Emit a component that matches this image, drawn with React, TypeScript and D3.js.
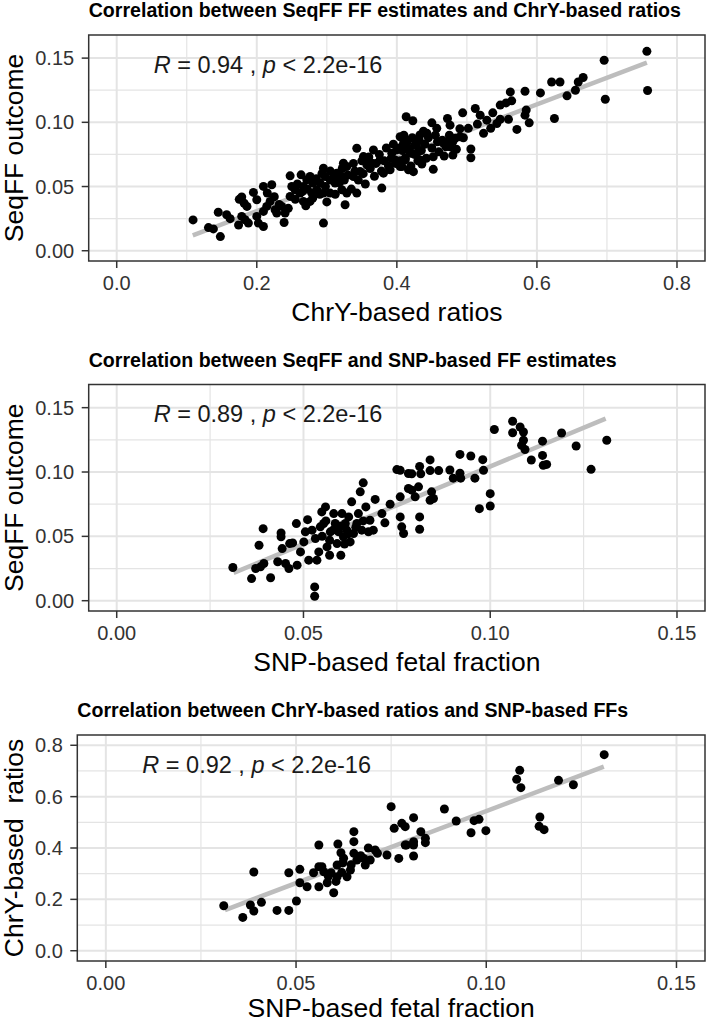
import React from 'react';
import * as d3 from 'd3';

type Pt = [number, number];

// ---------- Panel 1: SeqFF vs ChrY-based ratios ----------
const chryVsSeqff: Pt[] = [
  [0.109,0.024],[0.131,0.018],[0.138,0.017],[0.148,0.011],[0.145,0.030],[0.157,0.028],[0.162,0.025],[0.174,0.020],[0.175,0.040],[0.182,0.037],
  [0.186,0.0345],[0.1785,0.0267],[0.1833,0.0241],[0.188,0.0215],[0.200,0.0267],[0.2023,0.0215],[0.2095,0.0189],[0.2095,0.0306],[0.2142,0.0345],[0.219,0.0384],
  [0.2214,0.0514],[0.2095,0.0501],[0.1952,0.0454],[0.200,0.0397],[0.2261,0.0319],[0.2285,0.0293],[0.2357,0.0345],[0.2404,0.0293],[0.239,0.022],[0.1785,0.0418],
  [0.2476,0.0423],[0.2476,0.0583],[0.2633,0.0591],[0.2547,0.0474],[0.2619,0.0449],[0.2666,0.0501],[0.2666,0.0384],[0.2714,0.0552],[0.2761,0.0578],[0.2785,0.0449],
  [0.2761,0.0384],[0.2799,0.0527],[0.2857,0.0475],[0.2904,0.0527],[0.2952,0.0643],[0.2976,0.0578],[0.2952,0.0449],[0.2952,0.0215],[0.3047,0.0552],[0.3047,0.0449],
  [0.3118,0.0527],[0.3142,0.0604],[0.3214,0.0578],[0.3214,0.0475],[0.3237,0.0682],[0.3285,0.0656],[0.3285,0.0449],[0.3261,0.0358],[0.338,0.0578],[0.3428,0.0798],
  [0.3428,0.0449],[0.3475,0.0617],[0.3523,0.0733],[0.3571,0.0669],[0.3642,0.0682],[0.3666,0.0785],[0.3761,0.0707],[0.3785,0.0488],[0.3809,0.0604],[0.3904,0.063],
  [0.3928,0.0759],[0.3976,0.0707],[0.40,0.0785],[0.4047,0.0888],[0.4071,0.0656],[0.4095,0.0837],[0.4142,0.0811],[0.4133,0.1043],
  [0.215,0.045],[0.225,0.042],[0.232,0.036],[0.245,0.033],[0.25,0.05],[0.255,0.040],[0.258,0.052],[0.265,0.046],[0.27,0.035],[0.272,0.048],
  [0.28,0.041],[0.285,0.056],[0.29,0.044],[0.293,0.060],[0.298,0.050],[0.30,0.038],[0.305,0.062],[0.31,0.057],[0.312,0.044],[0.318,0.053],
  [0.322,0.064],[0.325,0.055],[0.33,0.059],[0.335,0.048],[0.338,0.068],[0.34,0.062],[0.345,0.055],[0.35,0.07],[0.352,0.06],[0.355,0.052],
  [0.36,0.073],[0.362,0.064],[0.368,0.058],[0.37,0.068],[0.375,0.075],[0.378,0.062],[0.382,0.07],[0.385,0.08],[0.388,0.066],[0.392,0.072],
  [0.395,0.083],[0.398,0.068],[0.403,0.08],[0.405,0.07],[0.408,0.078],[0.41,0.09],[0.412,0.072],[0.415,0.085],[0.418,0.079],[0.42,0.066],
  [0.422,0.088],[0.425,0.075],[0.428,0.082],[0.43,0.07],[0.432,0.086],[0.435,0.078],[0.438,0.093],[0.44,0.083],[0.442,0.072],[0.445,0.088],
  [0.45,0.08],[0.455,0.09],[0.46,0.077],[0.465,0.086],[0.47,0.081],[0.475,0.09],[0.48,0.085],[0.485,0.079],[0.49,0.095],[0.495,0.088],
  [0.4666,0.0836],[0.4737,0.0849],[0.4833,0.0875],[0.4904,0.0888],[0.476,0.081],[0.4095,0.0875],[0.4142,0.081],[0.419,0.0759],[0.412,0.0707],[0.426,0.0823],
  [0.4285,0.0759],[0.4047,0.0655],[0.4166,0.063],[0.4333,0.0707],
  [0.757,0.1553],[0.758,0.1248],[0.696,0.1483],[0.6976,0.118],[0.666,0.1349],[0.659,0.1314],[0.655,0.125],[0.643,0.1206],[0.633,0.1314],[0.621,0.1314],
  [0.605,0.1229],[0.625,0.103],[0.583,0.1242],[0.562,0.1237],[0.564,0.1167],[0.556,0.1151],[0.5476,0.1134],[0.5847,0.1095],[0.583,0.1056],[0.589,0.0996],
  [0.5714,0.0945],[0.5594,0.1023],[0.5476,0.1023],[0.537,0.1074],[0.534,0.0953],[0.515,0.0986],[0.512,0.1108],[0.494,0.1074],[0.502,0.0953],[0.5057,0.0792],
  [0.5057,0.0724],[0.48,0.0745],[0.4676,0.0737],[0.452,0.0732],[0.452,0.0634],[0.4357,0.0675],[0.4237,0.0616],[0.4228,0.1012],[0.45,0.0996],[0.457,0.0953],
  [0.4723,0.103],[0.476,0.0978],[0.433,0.0901],[0.443,0.0914],[0.458,0.0849],[0.5285,0.1017],[0.5238,0.0914],[0.5428,0.0991],[0.519,0.1056],
];
const chryVsSeqffFit: Pt[] = [[0.1086, 0.0119], [0.757, 0.1465]];

// ---------- Panel 2: SeqFF vs SNP-based FF ----------
const snpVsSeqff: Pt[] = [
  [0.0311,0.0258],[0.0361,0.0172],[0.0372,0.025],[0.0385,0.0263],[0.0394,0.0289],[0.0381,0.0431],[0.0392,0.056],[0.0412,0.0178],[0.0431,0.0303],[0.044,0.0527],
  [0.044,0.0496],[0.0443,0.0405],[0.0452,0.0289],[0.0461,0.025],[0.0463,0.0444],[0.0471,0.0449],[0.0481,0.0599],[0.0483,0.0276],[0.0492,0.0379],[0.0501,0.0457],
  [0.0505,0.0535],[0.0511,0.063],[0.0514,0.0315],[0.0523,0.0548],[0.053,0.0107],[0.053,0.0035],[0.0532,0.0483],[0.0536,0.0315],[0.0541,0.0379],[0.0545,0.0574],
  [0.0549,0.069],[0.0554,0.06],[0.0559,0.0729],[0.0563,0.0418],[0.057,0.0353],[0.0572,0.0535],[0.0581,0.0677],[0.0585,0.06],[0.059,0.0444],[0.0594,0.0535],
  [0.06,0.0353],[0.0603,0.0677],[0.0607,0.0496],[0.0612,0.06],[0.0616,0.0548],[0.0621,0.0651],[0.0625,0.0457],[0.0629,0.0768],[0.0634,0.0522],[0.0643,0.06],
  [0.0647,0.0677],[0.0652,0.0846],[0.0656,0.0548],[0.066,0.0916],[0.0667,0.0729],[0.0674,0.0535],[0.0678,0.0625],[0.0687,0.0548],[0.0692,0.0787],[0.071,0.0677],
  [0.0718,0.0605],[0.0732,0.075],[0.075,0.1019],[0.0759,0.0807],[0.0759,0.0651],[0.0763,0.0574],[0.0768,0.0522],[0.0781,0.0872],[0.0781,0.0988],
  [0.0759,0.1013],[0.0811,0.0651],[0.0811,0.0555],[0.079,0.0986],[0.0811,0.1043],[0.0814,0.0986],[0.0839,0.1094],[0.0839,0.1011],[0.0862,0.1011],[0.079,0.0859],
  [0.0799,0.0807],[0.0808,0.0885],[0.0843,0.0846],[0.0848,0.0794],[0.0839,0.0781],[0.0892,0.1016],[0.0901,0.0952],[0.0919,0.0991],[0.0921,0.0952],[0.0919,0.1137],
  [0.0948,0.1124],[0.0959,0.0952],[0.098,0.1096],[0.0982,0.1013],[0.1,0.0832],[0.1,0.0736],[0.0971,0.0715],[0.1011,0.133],[0.106,0.1394],[0.106,0.1305],
  [0.108,0.135],[0.1089,0.1311],[0.1089,0.1247],[0.1084,0.1208],[0.1093,0.1175],[0.111,0.1093],[0.114,0.124],[0.114,0.1129],[0.1142,0.1052],[0.1151,0.1059],
  [0.1191,0.1303],[0.123,0.1202],[0.127,0.1021],[0.1312,0.1247],
  [0.055,0.05],[0.058,0.055],[0.06,0.058],[0.062,0.052],[0.057,0.047],[0.064,0.057],[0.061,0.044],[0.066,0.062],[0.056,0.062],
];
const snpVsSeqffFit: Pt[] = [[0.0313, 0.0216], [0.1309, 0.1415]];

// ---------- Panel 3: ChrY-based ratios vs SNP-based FF ----------
const snpVsChry: Pt[] = [
  [0.031,0.1753],[0.036,0.1298],[0.038,0.1779],[0.0389,0.1545],[0.0409,0.1883],[0.0389,0.3064],[0.045,0.1571],[0.0481,0.1571],[0.0501,0.1935],[0.0481,0.3038],
  [0.051,0.3168],[0.051,0.2648],[0.0529,0.2493],[0.0546,0.3038],[0.056,0.3272],[0.056,0.2493],[0.0568,0.3272],[0.0573,0.3077],[0.0582,0.2648],[0.0599,0.2259],
  [0.056,0.4116],[0.0592,0.3038],[0.0608,0.3337],[0.0608,0.2882],[0.061,0.4155],[0.0618,0.3817],[0.0623,0.3427],[0.0634,0.2882],[0.0643,0.3142],[0.0652,0.4636],
  [0.0652,0.4246],[0.0652,0.3791],[0.066,0.3531],[0.0678,0.3596],[0.0682,0.3337],[0.0695,0.3531],[0.0708,0.3921],[0.0714,0.3791],[0.0739,0.3726],[0.075,0.5609],
  [0.0758,0.4765],[0.077,0.3596],[0.0778,0.496],[0.0787,0.483],[0.079,0.4116],
  [0.0787,0.4116],[0.0809,0.5181],[0.0809,0.4116],[0.0809,0.4246],[0.0809,0.3687],[0.0828,0.4636],[0.084,0.4376],[0.084,0.4207],[0.089,0.5518],[0.0921,0.5051],
  [0.096,0.4596],[0.0968,0.5064],[0.0981,0.5116],[0.0999,0.4675],[0.1088,0.7025],[0.108,0.6673],[0.1091,0.6349],[0.1141,0.5207],[0.1139,0.4843],[0.1152,0.4713],
  [0.119,0.6634],[0.1229,0.6465],[0.131,0.7635],
  [0.0585,0.29],[0.062,0.305],[0.0645,0.335],[0.067,0.37],[0.0625,0.36],[0.069,0.40],[0.0605,0.27],
];
const snpVsChryFit: Pt[] = [[0.0313, 0.1585], [0.1309, 0.7165]];

// ---------- Texts & ticks ----------
const panelTitles = [
  'Correlation between SeqFF FF estimates and ChrY-based ratios',
  'Correlation between SeqFF and SNP-based FF estimates',
  'Correlation between ChrY-based ratios and SNP-based FFs',
];
const xTitles = ['ChrY-based ratios', 'SNP-based fetal fraction', 'SNP-based fetal fraction'];
const yTitles = ['SeqFF outcome', 'SeqFF outcome', 'ChrY-based  ratios'];
const corrR = ['0.94', '0.89', '0.92'];
const corrP = '2.2e-16';

const ratioTicks = [0, 0.2, 0.4, 0.6, 0.8];
const ratioMinor = [0.1, 0.3, 0.5, 0.7];
const ffTicks = [0, 0.05, 0.1, 0.15];
const ffMinor = [0.025, 0.075, 0.125];

const FONT = '"Liberation Sans", Arial, Helvetica, sans-serif';

interface PanelCfg {
  points: Pt[];
  fit: Pt[];
  title: string;
  xTitle: string;
  yTitle: string;
  r: string;
  xDomain: [number, number];
  yDomain: [number, number];
  xTicks: number[];
  xMinor: number[];
  yTicks: number[];
  yMinor: number[];
  xFmt: string;
  yFmt: string;
  left: number;
  right: number;
  top: number;
  bottom: number;
  xTitleDy: number;
}

function Panel({ c }: { c: PanelCfg }) {
  const x = d3.scaleLinear().domain(c.xDomain).range([c.left, c.right]);
  const y = d3.scaleLinear().domain(c.yDomain).range([c.bottom, c.top]);
  const fx = d3.format(c.xFmt);
  const fy = d3.format(c.yFmt);
  const line = d3.line<Pt>().x(d => x(d[0])).y(d => y(d[1]));
  const grid = '#e4e4e4';
  const dark = '#333333';
  const cx = (c.left + c.right) / 2;
  const cy = (c.top + c.bottom) / 2;
  return (
    <g>
      <text x={c.left} y={c.top - 18} fontFamily={FONT} fontWeight="bold" fontSize={19.6} fill="#000">{c.title}</text>
      <rect x={c.left} y={c.top} width={c.right - c.left} height={c.bottom - c.top} fill="#fff" />
      {c.xMinor.map(v => (
        <line key={'xm' + v} x1={x(v)} x2={x(v)} y1={c.top} y2={c.bottom} stroke={grid} strokeWidth={1.2} />
      ))}
      {c.yMinor.map(v => (
        <line key={'ym' + v} y1={y(v)} y2={y(v)} x1={c.left} x2={c.right} stroke={grid} strokeWidth={1.2} />
      ))}
      {c.xTicks.map(v => (
        <line key={'xg' + v} x1={x(v)} x2={x(v)} y1={c.top} y2={c.bottom} stroke={grid} strokeWidth={2} />
      ))}
      {c.yTicks.map(v => (
        <line key={'yg' + v} y1={y(v)} y2={y(v)} x1={c.left} x2={c.right} stroke={grid} strokeWidth={2} />
      ))}
      <path d={line(c.fit) || ''} stroke="#bdbdbd" strokeWidth={4.5} fill="none" />
      {c.points.map((p, i) => (
        <circle key={i} cx={x(p[0])} cy={y(p[1])} r={4.5} fill="#000" />
      ))}
      <text x={c.left + 65} y={c.top + 37.5} fontFamily={FONT} fontSize={23.5} fill="#1a1a1a" style={{ whiteSpace: 'pre' }}>
        <tspan fontStyle="italic">R</tspan>
        <tspan>{` = ${c.r} , `}</tspan>
        <tspan fontStyle="italic">p</tspan>
        <tspan>{` < ${corrP}`}</tspan>
      </text>
      <rect x={c.left} y={c.top} width={c.right - c.left} height={c.bottom - c.top} fill="none" stroke={dark} strokeWidth={1.5} />
      {c.xTicks.map(v => (
        <g key={'xt' + v}>
          <line x1={x(v)} x2={x(v)} y1={c.bottom} y2={c.bottom + 7} stroke={dark} strokeWidth={1.5} />
          <text x={x(v)} y={c.bottom + 28.8} textAnchor="middle" fontFamily={FONT} fontSize={20} fill={dark}>{fx(v)}</text>
        </g>
      ))}
      {c.yTicks.map(v => (
        <g key={'yt' + v}>
          <line x1={c.left - 7} x2={c.left} y1={y(v)} y2={y(v)} stroke={dark} strokeWidth={1.5} />
          <text x={c.left - 14.5} y={y(v) + 7.1} textAnchor="end" fontFamily={FONT} fontSize={20} fill={dark}>{fy(v)}</text>
        </g>
      ))}
      <text x={cx} y={c.bottom + c.xTitleDy} textAnchor="middle" fontFamily={FONT} fontSize={26.5} fill="#000">{c.xTitle}</text>
      <text transform={`translate(23,${cy}) rotate(-90)`} textAnchor="middle" fontFamily={FONT} fontSize={26.5} fill="#000" style={{ whiteSpace: 'pre' }}>{c.yTitle}</text>
    </g>
  );
}

export default function App() {
  const panels: PanelCfg[] = [
    {
      points: chryVsSeqff, fit: chryVsSeqffFit, title: panelTitles[0], xTitle: xTitles[0], yTitle: yTitles[0], r: corrR[0],
      xDomain: [-0.04, 0.84], yDomain: [-0.008, 0.168], xTicks: ratioTicks, xMinor: ratioMinor, yTicks: ffTicks, yMinor: ffMinor,
      xFmt: '.1f', yFmt: '.2f', left: 88.7, right: 705, top: 35, bottom: 261, xTitleDy: 60,
    },
    {
      points: snpVsSeqff, fit: snpVsSeqffFit, title: panelTitles[1], xTitle: xTitles[1], yTitle: yTitles[1], r: corrR[1],
      xDomain: [-0.0075, 0.1575], yDomain: [-0.008, 0.168], xTicks: ffTicks, xMinor: ffMinor, yTicks: ffTicks, yMinor: ffMinor,
      xFmt: '.2f', yFmt: '.2f', left: 88.7, right: 705, top: 384.5, bottom: 611, xTitleDy: 60,
    },
    {
      points: snpVsChry, fit: snpVsChryFit, title: panelTitles[2], xTitle: xTitles[2], yTitle: yTitles[2], r: corrR[2],
      xDomain: [-0.0075, 0.1575], yDomain: [-0.04, 0.84], xTicks: ffTicks, xMinor: ffMinor, yTicks: ratioTicks, yMinor: ratioMinor,
      xFmt: '.2f', yFmt: '.1f', left: 77.3, right: 705, top: 735, bottom: 961, xTitleDy: 55.5,
    },
  ];
  return (
    <svg width={709} height={1024} style={{ position: 'absolute', left: 0, top: 0, background: '#fff' }}>
      <rect width={709} height={1024} fill="#fff" />
      {panels.map((p, i) => <Panel key={i} c={p} />)}
    </svg>
  );
}
